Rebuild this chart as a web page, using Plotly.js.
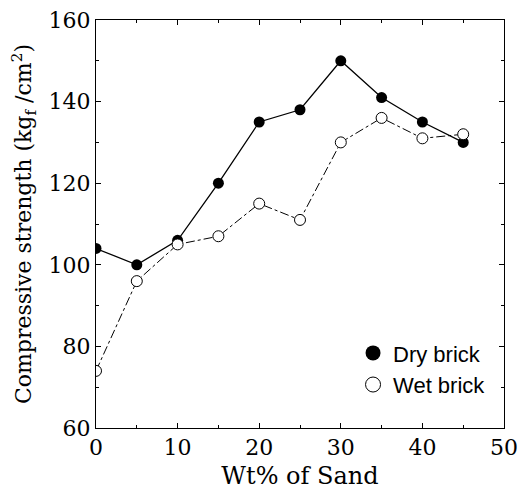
<!DOCTYPE html>
<html>
<head>
<meta charset="utf-8">
<script src="https://cdn.plot.ly/plotly-3.0.1.min.js"></script>
<style>html,body{margin:0;padding:0;background:#fff;}#chart{width:520px;height:490px;}</style>
</head>
<body>
<div id="chart"></div>
<script>
const sandWt = [0, 5, 10, 15, 20, 25, 30, 35, 40, 45];
const dryBrick = [104, 100, 106, 120, 135, 138, 150, 141, 135, 130];
const wetBrick = [74, 96, 105, 107, 115, 111, 130, 136, 131, 132];
const seriesNames = ['Dry brick', 'Wet brick'];
const xTitle = 'Wt% of Sand';
const yTitle = 'Compressive strength (kg<sub>f</sub> /cm<sup>2</sup>)';

const serif = 'DejaVu Serif';
const sans = 'Liberation Sans';
const dryMarker = {symbol: 'circle', size: 11, color: '#000'};
const wetMarker = {symbol: 'circle', size: 11, color: '#fff', line: {color: '#000', width: 1}};
const traces = [
  {
    x: sandWt, y: dryBrick, name: seriesNames[0], type: 'scatter', mode: 'lines+markers',
    line: {color: '#000', width: 1.3}, marker: dryMarker, showlegend: false
  },
  {
    x: sandWt, y: wetBrick, name: seriesNames[1], type: 'scatter', mode: 'lines+markers',
    line: {color: '#000', width: 1, dash: 'dashdot'}, marker: wetMarker, showlegend: false
  },
  {
    x: [null], y: [null], name: seriesNames[0], type: 'scatter', mode: 'markers',
    marker: Object.assign({}, dryMarker, {size: 15}), showlegend: true
  },
  {
    x: [null], y: [null], name: seriesNames[1], type: 'scatter', mode: 'markers',
    marker: Object.assign({}, wetMarker, {size: 15}), showlegend: true
  }
];
const layout = {
  width: 520, height: 490,
  margin: {l: 96, r: 16, t: 20, b: 62},
  paper_bgcolor: '#fff', plot_bgcolor: '#fff',
  font: {family: serif, size: 22, color: '#000'},
  showlegend: true,
  legend: {
    x: 0.63, y: 0.235, xanchor: 'left', yanchor: 'top',
    bgcolor: 'rgba(0,0,0,0)',
    font: {family: sans, size: 22, color: '#000'},
    tracegroupgap: 0
  },
  xaxis: {
    showline: true, linecolor: '#000', linewidth: 1, mirror: 'ticks',
    ticks: 'inside', ticklen: 5, tickcolor: '#000', tickwidth: 1,
    showgrid: false, zeroline: false,
    tickfont: {family: serif, size: 22, color: '#000'},
    range: [0, 50], dtick: 10, tick0: 0,
    minor: {ticks: 'inside', ticklen: 3, dtick: 5, tickcolor: '#000'},
    title: {text: xTitle, font: {family: serif, size: 24, color: '#000'}, standoff: 8}
  },
  yaxis: {
    showline: true, linecolor: '#000', linewidth: 1, mirror: 'ticks',
    ticks: 'inside', ticklen: 5, tickcolor: '#000', tickwidth: 1,
    showgrid: false, zeroline: false,
    tickfont: {family: serif, size: 22, color: '#000'},
    range: [60, 160], dtick: 20, tick0: 60,
    minor: {ticks: 'inside', ticklen: 3, dtick: 10, tickcolor: '#000'},
    title: {text: yTitle, font: {family: serif, size: 22, color: '#000'}, standoff: 10}
  }
};
Plotly.newPlot('chart', traces, layout, {displayModeBar: false, staticPlot: true});
</script>
</body>
</html>
